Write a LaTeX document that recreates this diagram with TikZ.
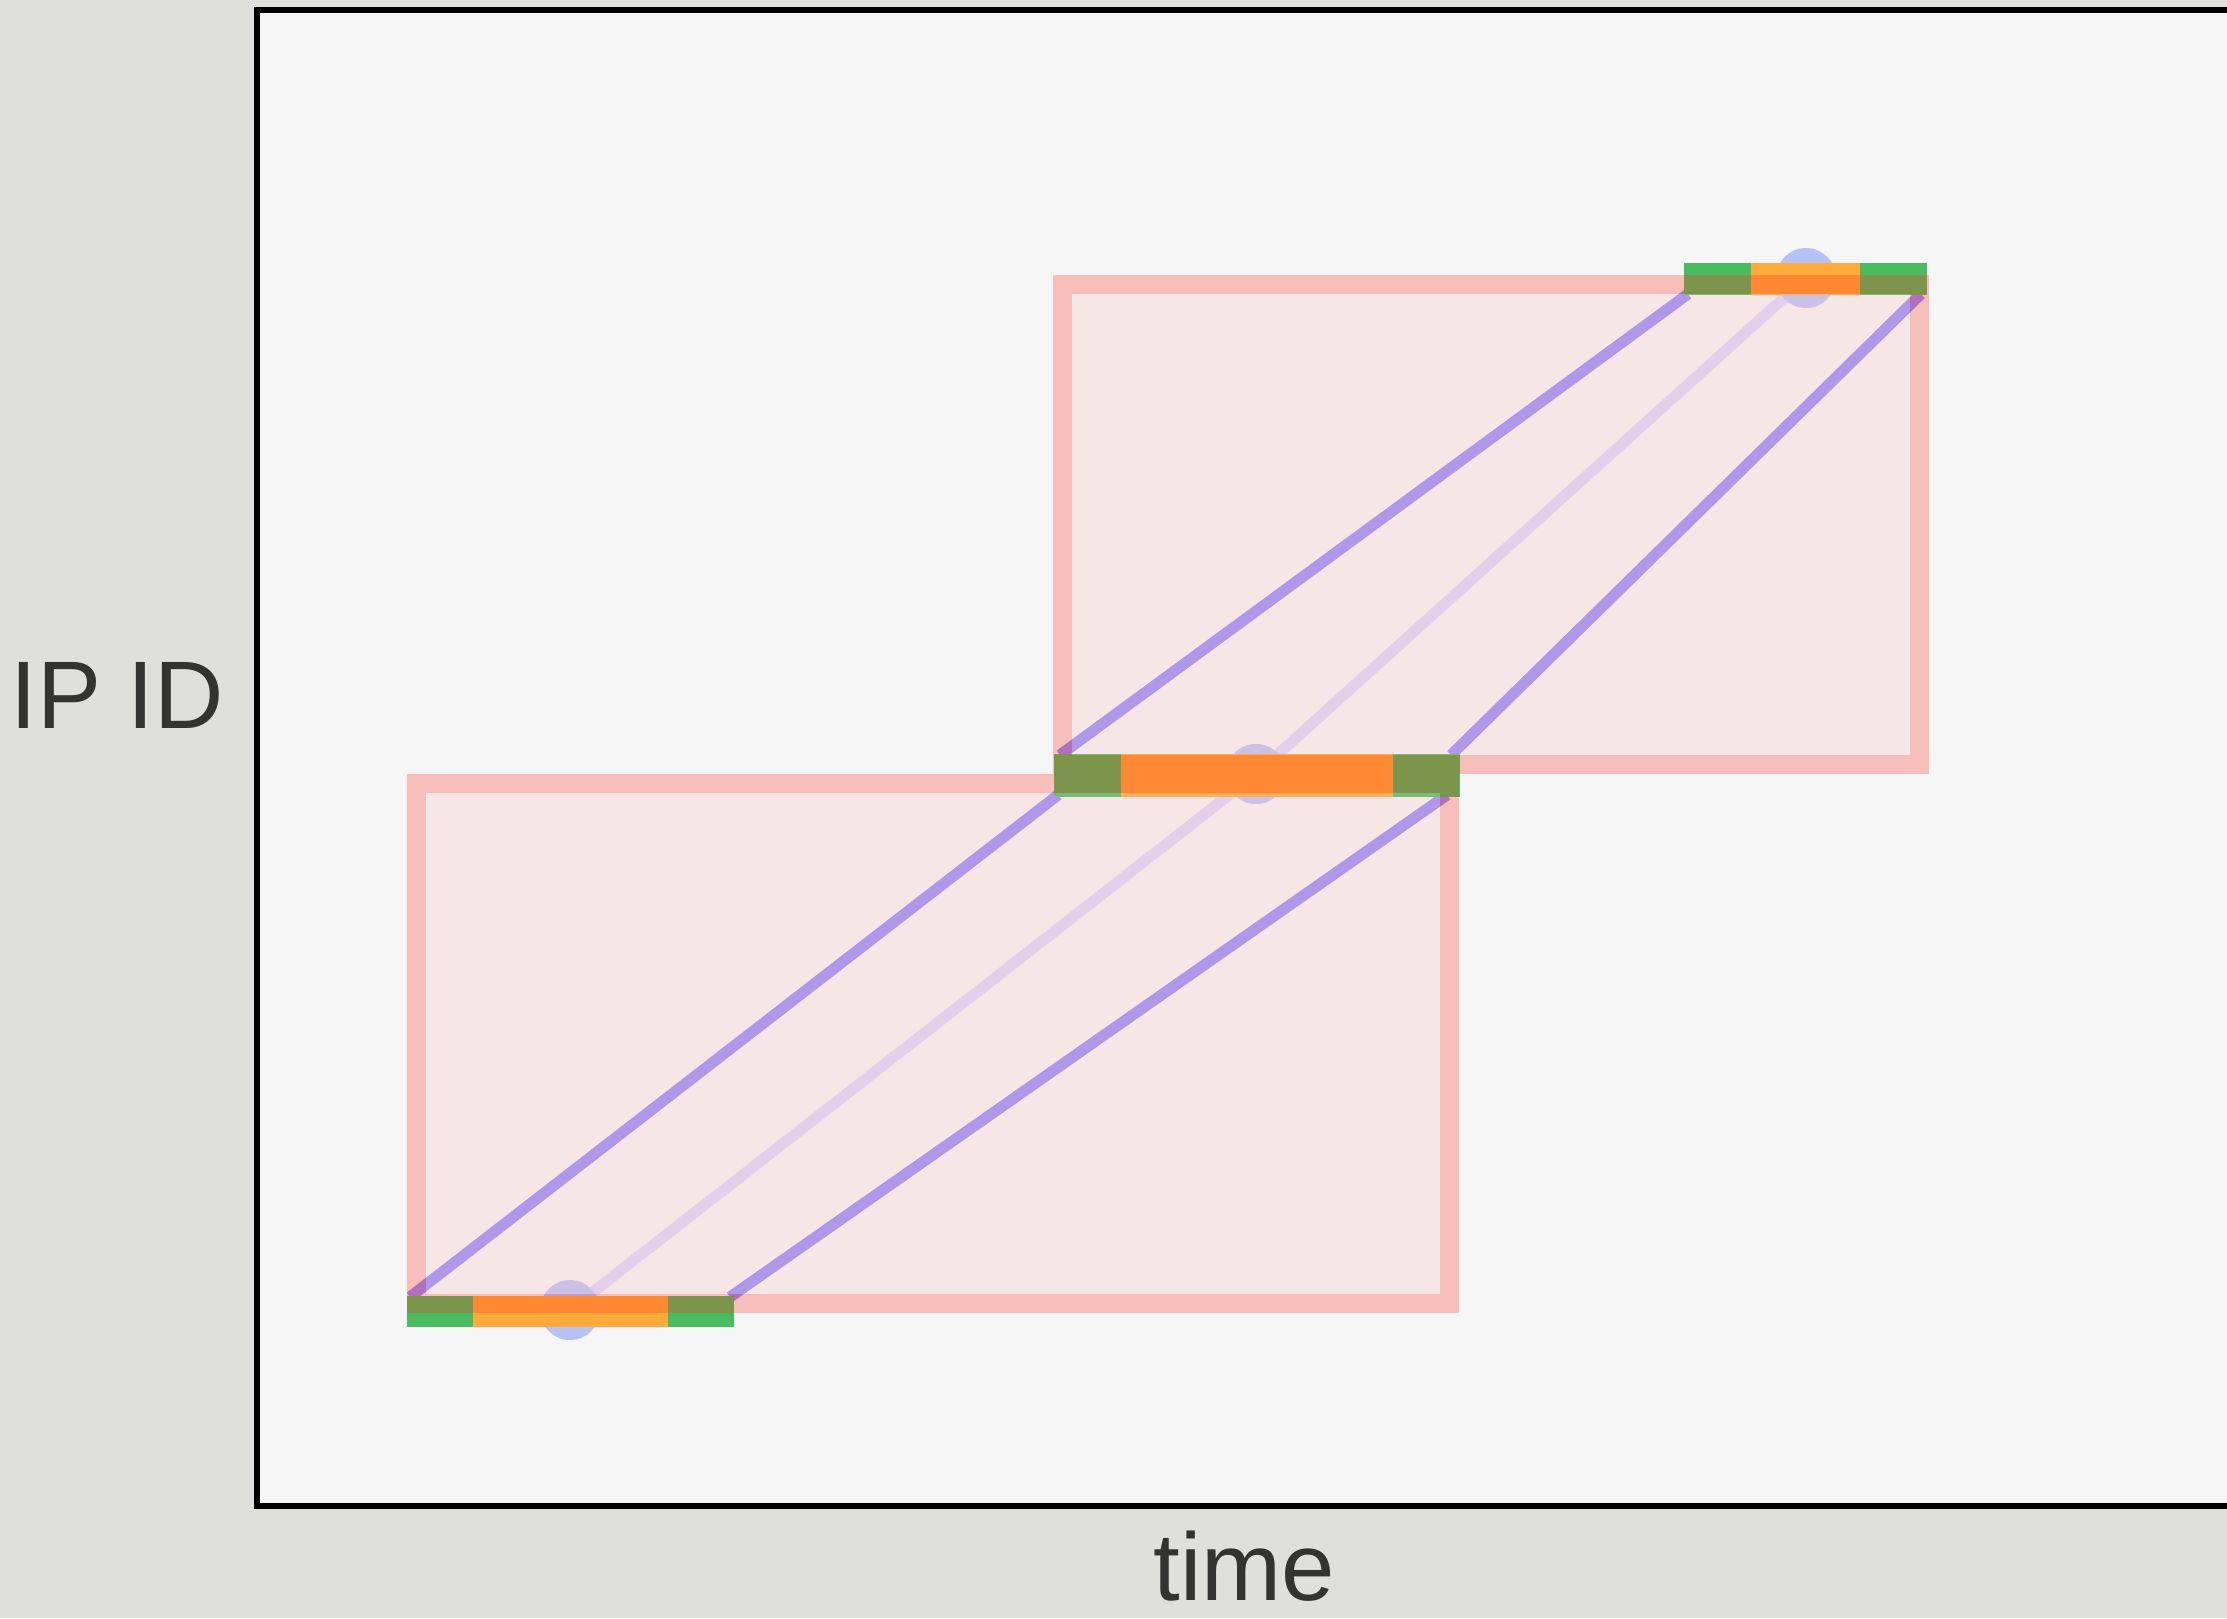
\documentclass[tikz,border=0pt]{standalone}
\usepackage{fontspec}
\setmainfont{Liberation Sans}
\definecolor{bgout}{RGB}{224,224,219}
\definecolor{bgin}{RGB}{246,246,246}
\definecolor{rstroke}{RGB}{255,50,32}
\definecolor{rfill}{RGB}{253,190,190}
\definecolor{purp}{RGB}{145,138,250}
\definecolor{lightl}{RGB}{218,214,251}
\definecolor{circ}{RGB}{184,193,245}
\definecolor{gbar}{RGB}{74,187,94}
\definecolor{obar}{RGB}{255,170,58}
\definecolor{txt}{RGB}{51,51,48}
\tikzset{
  diag/.style={draw=purp,line width=5.5pt},
  centreline/.style={draw=lightl,line width=5.5pt},
  dot/.style={fill=circ},
  gseg/.style={fill=gbar},
  oseg/.style={fill=obar},
  boxfill/.style={fill=rfill,fill opacity=0.28},
  boxline/.style={draw=rstroke,draw opacity=0.28,line width=9.5pt,line join=miter},
  lbl/.style={text=txt,font=\fontsize{48}{58}\selectfont,inner sep=0pt,anchor=base}
}
\begin{document}
\begin{tikzpicture}[x=0.5pt,y=-0.5pt]
\useasboundingbox (0,0) rectangle (2227,1618);
\clip (0,0) rectangle (2227,1618);
\fill[bgout] (0,0) rectangle (2227,1618);
\fill[bgin] (256.5,9.5) rectangle (2260,1505.5);
\draw[line width=3pt] (2260,9.5) -- (256.5,9.5) -- (256.5,1505.5) -- (2260,1505.5);

% circle centres
\coordinate (c1) at (570,1310);
\coordinate (c2) at (1256,774);
\coordinate (c3) at (1806,278);

% centre lines
\draw[centreline] (c1) -- (c2);
\draw[centreline] (c2) -- (c3);

% diagonal lines
\coordinate (b1tl) at (410,1297);
\coordinate (b1tr) at (730,1297);
\coordinate (b2bl) at (1058,795);
\coordinate (b2br) at (1447,795);
\coordinate (b2tl) at (1060,755);
\coordinate (b2tr) at (1451,755);
\coordinate (b3bl) at (1688,294);
\coordinate (b3br) at (1921,294);
\draw[diag] (b1tl) -- (b2bl);
\draw[diag] (b1tr) -- (b2br);
\draw[diag] (b2tl) -- (b3bl);
\draw[diag] (b2tr) -- (b3br);

% circles
\fill[dot] (c1) circle[radius=30];
\fill[dot] (c2) circle[radius=30];
\fill[dot] (c3) circle[radius=30];

% bars
\fill[gseg] (407,1296) rectangle (473,1327);
\fill[oseg] (473,1296) rectangle (668,1327);
\fill[gseg] (668,1296) rectangle (734,1327);

\fill[gseg] (1054,754) rectangle (1121,797);
\fill[oseg] (1121,754) rectangle (1393,797);
\fill[gseg] (1393,754) rectangle (1460,797);

\fill[gseg] (1684,263) rectangle (1751,295);
\fill[oseg] (1751,263) rectangle (1860,295);
\fill[gseg] (1860,263) rectangle (1927,295);

% boxes
\fill[boxfill] (426,793) rectangle (1440,1294);
\draw[boxline] (416.5,783.5) rectangle (1449.5,1303.5);
\fill[boxfill] (1072,294) rectangle (1910,755);
\draw[boxline] (1062.5,284.5) rectangle (1919,764.5);

% labels
\node[lbl] (ylab) at (117,728) {IP ID};
\node[lbl] (xlab) at (1244,1600) {time};
\end{tikzpicture}
\end{document}
